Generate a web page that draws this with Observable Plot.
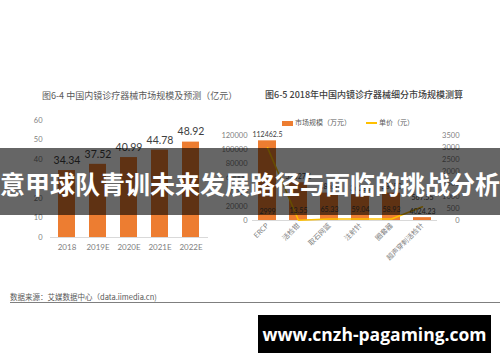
<!DOCTYPE html>
<html><head><meta charset="utf-8">
<script src="https://cdn.jsdelivr.net/npm/d3@7"></script>
<script src="https://cdn.jsdelivr.net/npm/@observablehq/plot@0.6"></script>
<style>
html,body{margin:0;padding:0;background:#fff;}
#page{position:relative;width:500px;height:362px;overflow:hidden;background:#fff;font-family:"Noto Sans CJK SC","Noto Sans",sans-serif;}
.abs{position:absolute;white-space:nowrap;}
#page svg{position:absolute;top:0;overflow:visible;}
</style></head>
<body>
<div id="page">
  <div class="abs" id="t1" style="left:42px;top:90px;font-size:9px;color:#595959;line-height:12px;"></div>
  <div class="abs" id="t2" style="left:265px;top:89px;font-size:9px;color:#404040;line-height:12px;font-weight:500;"></div>
  <div class="abs" id="legend" style="left:282px;top:117px;font-size:7px;color:#595959;line-height:10px;"></div>
  <div id="plots"></div>
  <div class="abs" id="band" style="left:0;top:148px;width:500px;height:67px;background:rgba(0,0,0,0.6);z-index:5;"></div>
  <div class="abs" id="bandText" style="left:-10px;top:148px;width:520px;height:67px;z-index:6;color:#fff;font-weight:700;font-size:25px;line-height:70px;text-align:center;"></div>
  <div class="abs" id="foot" style="left:10px;top:292px;font-size:7.5px;color:#595959;line-height:10px;"></div>
  <div class="abs" style="left:10px;top:302px;width:490px;height:1px;background:#7f7f7f;"></div>
  <div class="abs" id="wm" style="left:258px;top:315px;width:233px;height:38px;background:#000;z-index:7;color:#fff;font-family:'Open Sans','DejaVu Sans',sans-serif;font-weight:700;font-size:17.5px;line-height:38px;text-align:center;"></div>
</div>
<script>
// ---- Texts ----
const title1 = "图6-4 中国内镜诊疗器械市场规模及预测（亿元）";
const title2 = "图6-5 2018年中国内镜诊疗器械细分市场规模测算";
const bannerText = "意甲球队青训未来发展路径与面临的挑战分析";
const footText = "数据来源：艾媒数据中心（data.iimedia.cn)";
const watermark = "www.cnzh-pagaming.com";
const legendBar = "市场规模（万元）";
const legendLine = "单价（元）";

// ---- Left chart data ----
const years = ["2018", "2019E", "2020E", "2021E", "2022E"];
const marketSize = [34.34, 37.52, 40.99, 44.78, 48.92];
const leftTicks = [0, 10, 20, 30, 40, 50, 60];

// ---- Right chart data ----
const segments = ["ERCP", "活检钳", "取石网篮", "注射针", "圈套器", "超声穿刺活检针"];
const segmentSize = [112462.5, 53327.1, 38650, 36280, 38650, 4024.23];
const unitPrice = [2999, 13.55, 65.33, 59.04, 58.93, 567.55];
const sizeTicks = [0, 20000, 40000, 60000, 80000, 100000, 120000];
const priceTicks = [0, 500, 1000, 1500, 2000, 2500, 3000, 3500];

const ORANGE = "#ED7D31";
const YELLOW = "#FFC000";
const GRAY = "#808080";
const NUMFONT = "Lato, 'Open Sans', sans-serif";

document.getElementById("t1").textContent = title1;
document.getElementById("t2").textContent = title2;
document.getElementById("bandText").textContent = bannerText;
document.getElementById("foot").textContent = footText;
document.getElementById("wm").textContent = watermark;
document.getElementById("legend").innerHTML =
  `<span style="display:inline-block;width:11px;height:5px;background:${ORANGE};vertical-align:middle;margin-right:2px;"></span>${legendBar}` +
  `<span style="display:inline-block;width:11px;height:1.5px;background:${YELLOW};vertical-align:middle;margin:0 2px 0 15px;"></span>${legendLine}`;

// ---- Left plot ----
const leftData = years.map((y, i) => ({year: y, value: marketSize[i]}));
const left = Plot.plot({
  width: 250, height: 260,
  marginTop: 120, marginBottom: 23, marginLeft: 50, marginRight: 42,
  style: {fontFamily: NUMFONT, background: "transparent"},
  x: {type: "band", domain: years, paddingInner: 0.44, paddingOuter: 0.2, label: null},
  y: {domain: [0, 60], label: null},
  marks: [
    Plot.ruleY([0], {stroke: "#d9d9d9"}),
    Plot.barY(leftData, {x: "year", y: "value", fill: ORANGE}),
    Plot.text(leftData, {x: "year", y: "value", text: d => d.value.toFixed(2), dy: -10, fontSize: 10.5, fill: "#404040"}),
    Plot.axisY(leftTicks, {tickSize: 0, tickPadding: 8, fontSize: 7.5, color: GRAY, label: null, tickFormat: d => String(d)}),
    Plot.axisX({tickSize: 0, tickPadding: 7, fontSize: 8, color: GRAY, label: null})
  ]
});
left.style.left = "0px";
document.getElementById("plots").appendChild(left);

// ---- Right plot ----
const k = 120000 / 3500;
const rightData = segments.map((s, i) => ({seg: s, size: segmentSize[i], price: unitPrice[i]}));
const right = Plot.plot({
  width: 300, height: 300,
  marginTop: 135, marginBottom: 80, marginLeft: 52, marginRight: 63,
  style: {fontFamily: NUMFONT, background: "transparent"},
  x: {type: "band", domain: segments, paddingInner: 0.42, paddingOuter: 0.19, label: null},
  y: {domain: [0, 120000], label: null},
  marks: [
    Plot.ruleY([0], {stroke: "#d9d9d9"}),
    Plot.barY(rightData, {x: "seg", y: "size", fill: ORANGE}),
    Plot.lineY(rightData, {x: "seg", y: d => d.price * k, stroke: YELLOW, strokeWidth: 1.5}),
    Plot.text(rightData, {x: "seg", y: "size", text: d => String(d.size), fontSize: 7, fill: "#404040", dy: -6}),
    Plot.text(rightData, {x: "seg", y: d => (d.price > 1000 ? 0 : d.price) * k, text: d => String(d.price), dy: -9, fontSize: 7, fill: "#404040"}),
    Plot.axisY(sizeTicks, {tickSize: 0, tickPadding: 5, fontSize: 7.5, color: GRAY, label: null, tickFormat: d => String(d)}),
    Plot.axisY(priceTicks.map(v => v * k), {anchor: "right", tickSize: 0, tickPadding: 22, textAnchor: "end", tickFormat: d => String(Math.round(d / k)), fontSize: 7.5, color: GRAY, label: null}),
    Plot.axisX({tickSize: 0, tickPadding: 4, tickRotate: -45, fontSize: 7, color: GRAY, label: null, fontFamily: "'Noto Sans CJK SC', sans-serif"})
  ]
});
right.style.left = "200px";
document.getElementById("plots").appendChild(right);
</script>
</body></html>
